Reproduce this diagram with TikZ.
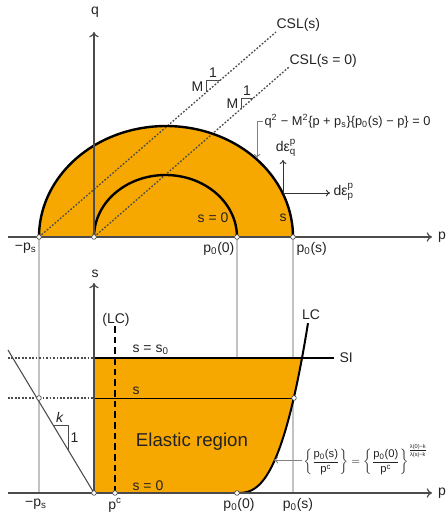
\documentclass[tikz,border=0pt]{standalone}
\usepackage{amsmath}
\usepackage{fontspec}
\setmainfont{Liberation Sans}
\usetikzlibrary{arrows.meta}

\definecolor{elastic}{RGB}{247,168,0}
\definecolor{axisgray}{RGB}{75,75,75}
\definecolor{guidegray}{RGB}{195,195,195}
\definecolor{labelgray}{RGB}{35,35,35}

\tikzset{
  axis/.style={axisgray,line width=0.9pt,-{To[length=4pt,width=7pt]}},
  yieldcurve/.style={black,line width=1.8pt},
  guide/.style={guidegray,line width=0.9pt},
  csl/.style={axisgray,line width=1pt,dash pattern=on 1.3pt off 1.3pt},
  pointer/.style={axisgray!70,line width=0.7pt,-{To[length=3pt,width=5pt]}},
  flow/.style={black!80,line width=0.7pt,-{To[length=3pt,width=5pt]}},
  dot/.style={circle,draw=axisgray,fill=white,inner sep=0pt,minimum size=3.5pt,line width=0.5pt},
  lbl/.style={text=labelgray,font=\fontsize{10.5}{12}\selectfont,inner sep=1pt},
}

\begin{document}
\begin{tikzpicture}[x=0.75pt,y=-0.75pt]
\useasboundingbox (0,0) rectangle (448,518);
% q-p plane
\fill[elastic] plot[smooth,samples=60,domain=180:0] ({166+127*cos(\x)},{237-111*sin(\x)}) -- cycle;
\draw[guide] (39,237) -- (39,493);
\draw[guide] (237,237) -- (237,493);
\draw[guide] (293,237) -- (293,493);
\draw[csl] (39,237) -- (276,32);
\draw[csl] (94,237) -- (289,67);
\draw[axisgray,line width=0.6pt] (206,92.4) -- (206,80) -- (220.3,80);
\draw[axisgray,line width=0.6pt] (241,108.8) -- (241,98) -- (253.4,98);
\draw[yieldcurve] plot[smooth,samples=60,domain=180:0] ({166+127*cos(\x)},{237-111*sin(\x)});
\draw[yieldcurve] plot[smooth,samples=50,domain=180:0] ({165.5+71.5*cos(\x)},{237-62*sin(\x)});
\draw[axis] (8,237) -- (432,237);
\draw[axis] (94,237) -- (94,32);

\coordinate (flowpt) at (283,193);
\draw[flow] (flowpt) -- (283,160);
\draw[flow] (flowpt) -- (330,193);
\draw[pointer] (263,121) -| (257,158);

\node[dot] (nps) at (39,237) {};
\node[dot] (norig) at (94,237) {};
\node[dot] (np0) at (237,237) {};
\node[dot] (nps0) at (293,237) {};

\node[lbl] (qlbl) at (95,12) {q};
\node[lbl] (plbl) at (442,237) {p};
\node[lbl,anchor=west] (csls) at (275,25) {CSL(s)};
\node[lbl,anchor=west] (csl0) at (288,61) {CSL(s = 0)};
\node[lbl,anchor=east] (mone) at (205,87) {M};
\node[lbl,anchor=south] (oneone) at (213,79) {1};
\node[lbl,anchor=east] (mtwo) at (240,104) {M};
\node[lbl,anchor=south] (onetwo) at (247,97) {1};
\node[lbl,anchor=west,font=\fontsize{9.6}{11}\selectfont] (yieldeq) at (263,121)
  {q\textsuperscript{2} − M\textsuperscript{2}\{p + p\textsubscript{s}\}\{p\textsubscript{0}(s) − p\} = 0};
\node[lbl] (deq) at (286,148) {$\text{dε}^{\text{p}}_{\text{q}}$};
\node[lbl,anchor=west] (dep) at (332,192) {$\text{dε}^{\text{p}}_{\text{p}}$};
\node[lbl] (szero) at (213,218) {s = 0};
\node[lbl] (sout) at (283,218) {s};
\node[lbl,anchor=north east] (mps) at (38,241) {−p\textsubscript{s}};
\node[lbl,anchor=north east] (p0zero) at (236,241) {p\textsubscript{0}(0)};
\node[lbl,anchor=north west] (p0s) at (295,241) {p\textsubscript{0}(s)};

% s-p plane
\fill[elastic] (94,493) -- (237,493) -- plot[smooth,samples=40,domain=0.2:65] ({237+\x},{493-135*(\x/65)^2.6}) -- (94,358) -- cycle;
\draw[csl] (8,358) -- (94,358);
\draw[csl] (8,398) -- (94,398);
\draw[axisgray,line width=0.8pt] (8,350) -- (94,493);
\draw[axisgray,line width=0.6pt] (53.1,425) -- (68,425) -- (68,449.8);
\draw[black,line width=1.4pt,dash pattern=on 5pt off 3pt] (115,326) -- (115,493);
\draw[black,line width=0.7pt] (94,398) -- (294,398);
\draw[yieldcurve] (94,358) -- (334,358);
\draw[black,line width=1.5pt] plot[smooth,samples=50,domain=0.2:71] ({237+\x},{493-135*(\x/65)^2.6});
\draw[axis] (8,493) -- (432,493);
\draw[axis] (94,493) -- (94,283);

\node[lbl,anchor=west,font=\fontsize{8.4}{10}\selectfont] (lceq) at (302,460)
  {$\left\{\dfrac{\text{p\textsubscript{0}(s)}}{\text{p\textsuperscript{c}}}\right\}
  = \left\{\dfrac{\text{p\textsubscript{0}(0)}}{\text{p\textsuperscript{c}}}\right\}^{\frac{\text{λ(0)−k}}{\text{λ(s)−k}}}$};
\draw[pointer] (lceq.west) -- (274,460);

\node[dot] (nks) at (39,398) {};
\node[dot] (nsorig) at (94,493) {};
\node[dot] (npc) at (115,493) {};
\node[dot] (nlc0) at (237,493) {};
\node[dot] (nlcs) at (294,398) {};

\node[lbl] (slbl) at (95,274) {s};
\node[lbl] (pbot) at (442,493) {p};
\node[lbl] (lcdash) at (116,320) {(LC)};
\node[lbl] (lccurve) at (311,315) {LC};
\node[lbl,anchor=west] (silbl) at (338,358) {SI};
\node[lbl,anchor=south west] (ssat) at (131,356) {s = s\textsubscript{0}};
\node[lbl,anchor=south west] (scur) at (131,396) {s};
\node[lbl,anchor=south west] (sdry) at (131,492) {s = 0};
\node[lbl,font=\fontsize{14}{16}\selectfont] (elastic) at (192,442) {Elastic region};
\node[lbl,anchor=south] (klbl) at (60,424) {\textit{k}};
\node[lbl,anchor=west] (kone) at (69,438) {1};
\node[lbl,anchor=north] (mpsb) at (36,497) {−p\textsubscript{s}};
\node[lbl,anchor=north] (pclbl) at (115,497) {p\textsuperscript{c}};
\node[lbl,anchor=north] (p0zb) at (239,497) {p\textsubscript{0}(0)};
\node[lbl,anchor=north] (p0sb) at (298,497) {p\textsubscript{0}(s)};
\end{tikzpicture}
\end{document}
